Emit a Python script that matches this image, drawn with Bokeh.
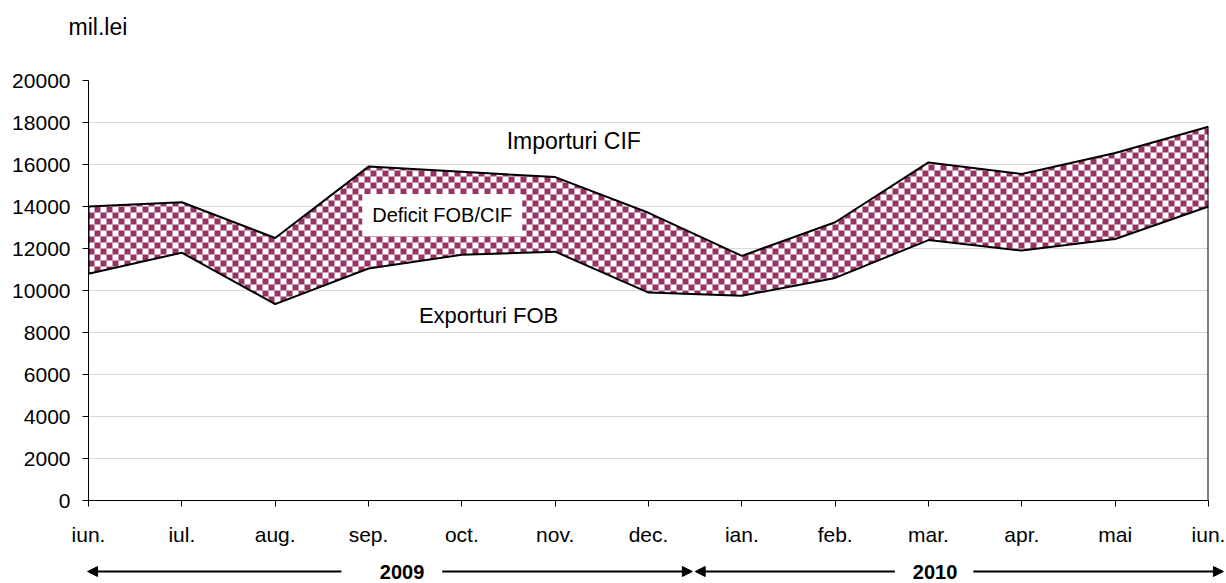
import numpy as np
from bokeh.plotting import figure
from bokeh.layouts import column
from bokeh.models import Range1d, FixedTicker, Label, Arrow, NormalHead, ColumnDataSource
from bokeh.core.properties import value
from bokeh.embed import file_html
from bokeh.resources import INLINE

# ---- data ----
months = ["iun.", "iul.", "aug.", "sep.", "oct.", "nov.", "dec.",
          "ian.", "feb.", "mar.", "apr.", "mai", "iun."]
importuri_cif = [14000, 14200, 12500, 15900, 15650, 15400, 13700,
                 11650, 13250, 16100, 15550, 16550, 17800]
exporturi_fob = [10800, 11800, 9350, 11050, 11700, 11850, 9900,
                 9750, 10600, 12400, 11900, 12450, 14000]
y_ticks = [0, 2000, 4000, 6000, 8000, 10000, 12000, 14000, 16000, 18000, 20000]
years = ["2009", "2010"]
unit_label = "mil.lei"

FONT = "Liberation Sans"
W = 1226
LEFT, RIGHT = 88, 18
FW = W - LEFT - RIGHT          # frame width in px
FH = 420                       # frame height in px
YMAX = 20000
x = list(range(len(months)))
XMAX = len(months) - 1
step = FW / XMAX               # px per category step

src = ColumnDataSource(dict(x=x, imp=importuri_cif, exp=exporturi_fob))

# ---------------- main chart ----------------
p = figure(width=W, height=12 + FH + 50, output_backend="svg", toolbar_location=None,
           x_range=Range1d(0, XMAX), y_range=Range1d(0, YMAX),
           min_border_left=LEFT, min_border_right=RIGHT, min_border_top=12,
           min_border_bottom=50, frame_align=False)
p.outline_line_color = None

# white band (covers grid lines), then checkerboard raster of the band
p.varea(x="x", y1="exp", y2="imp", source=src, fill_color="white")

cols = np.arange(FW)
rows = np.arange(FH)
xc = (cols + 0.5) * XMAX / FW
yc = (rows + 0.5) * YMAX / FH
lo = np.interp(xc, x, exporturi_fob)
hi = np.interp(xc, x, importuri_cif)
inband = (yc[:, None] >= lo[None, :]) & (yc[:, None] <= hi[None, :])
cell = 6
scr_row = (FH - 1 - rows)
checker = (((cols // cell)[None, :] + (scr_row // cell)[:, None]) % 2) == 0
mask = inband & checker
img = np.zeros((FH, FW), dtype=np.uint32)
view = img.view(np.uint8).reshape(FH, FW, 4)
view[mask] = [0x99, 0x33, 0x66, 255]
p.image_rgba(image=[img], x=0, y=0, dw=XMAX, dh=YMAX)

p.line(x="x", y="imp", source=src, line_color="black", line_width=2)
p.line(x="x", y="exp", source=src, line_color="black", line_width=2)
p.segment(x0=[x[-1]], y0=[0], x1=[x[-1]], y1=[importuri_cif[-1]],
          line_color="black", line_width=2)
p.segment(x0=[x[0]], y0=[exporturi_fob[0]], x1=[x[0]], y1=[importuri_cif[0]],
          line_color="black", line_width=2)

# axes
p.yaxis.ticker = FixedTicker(ticks=y_ticks)
p.xaxis.ticker = FixedTicker(ticks=x)
p.xaxis.major_label_overrides = {i: m for i, m in enumerate(months)}
for ax in (p.xaxis[0], p.yaxis[0]):
    ax.axis_line_color = "black"
    ax.axis_line_width = 1
    ax.major_tick_line_color = "black"
    ax.major_tick_in = 0
    ax.major_tick_out = 6
    ax.minor_tick_line_color = None
    ax.major_label_text_font = FONT
    ax.major_label_text_font_size = "21px"
    ax.major_label_text_color = "black"
p.yaxis.major_label_standoff = 12
p.xaxis.major_label_standoff = 16
p.xgrid.visible = False
p.ygrid.grid_line_color = "#d9d9d9"
p.ygrid.grid_line_width = 1

p.add_layout(Label(x=4.48, y=17100, text="Importuri CIF", text_font=FONT,
                   text_font_size="23px", text_baseline="middle",
                   text_color="black"))
p.add_layout(Label(x=3.54, y=8800, text="Exporturi FOB", text_font=FONT,
                   text_font_size="22px", text_baseline="middle",
                   text_color="black"))
p.add_layout(Label(x=3.79, y=13600, text="Deficit FOB/CIF", text_font=FONT,
                   text_font_size="20px", text_baseline="middle",
                   text_align="center", background_fill_color="white",
                   text_color="black", padding=10))

# ---------------- top strip: unit ----------------
TOP_H = 68
top = figure(width=W, height=TOP_H, output_backend="svg", toolbar_location=None,
             x_range=Range1d(-LEFT / step, XMAX + RIGHT / step),
             y_range=Range1d(0, TOP_H), x_axis_type=None, y_axis_type=None,
             min_border=0, frame_align=False)
top.outline_line_color = None
top.grid.visible = False
top.text(x=[-20 / step], y=[TOP_H - 26], text=[unit_label], text_font=value(FONT),
         text_font_size="23px", text_baseline="middle", text_color="black")

# ---------------- bottom strip: years ----------------
BOT_H = 32
bot = figure(width=W, height=BOT_H, output_backend="svg", toolbar_location=None,
             x_range=Range1d(-LEFT / step, XMAX + RIGHT / step),
             y_range=Range1d(0, BOT_H), x_axis_type=None, y_axis_type=None,
             min_border=0, frame_align=False)
bot.outline_line_color = None
bot.grid.visible = False
yr = 11
arrow_spans = [(2.71, -0.01), (3.79, 6.47), (8.64, 6.50), (9.48, 12.16)]
for (x0, x1) in arrow_spans:
    bot.add_layout(Arrow(x_start=x0, y_start=yr, x_end=x1, y_end=yr,
                         line_color="black", line_width=2,
                         end=NormalHead(size=10, fill_color="black",
                                        line_color="black")))
bot.text(x=[3.36, 9.07], y=[yr, yr], text=years, text_font=value(FONT),
         text_font_size="20px", text_font_style="bold", text_align="center",
         text_baseline="middle", text_color="black")

layout = column(top, p, bot, spacing=0)
open("out.html", "w").write(file_html(layout, INLINE))
